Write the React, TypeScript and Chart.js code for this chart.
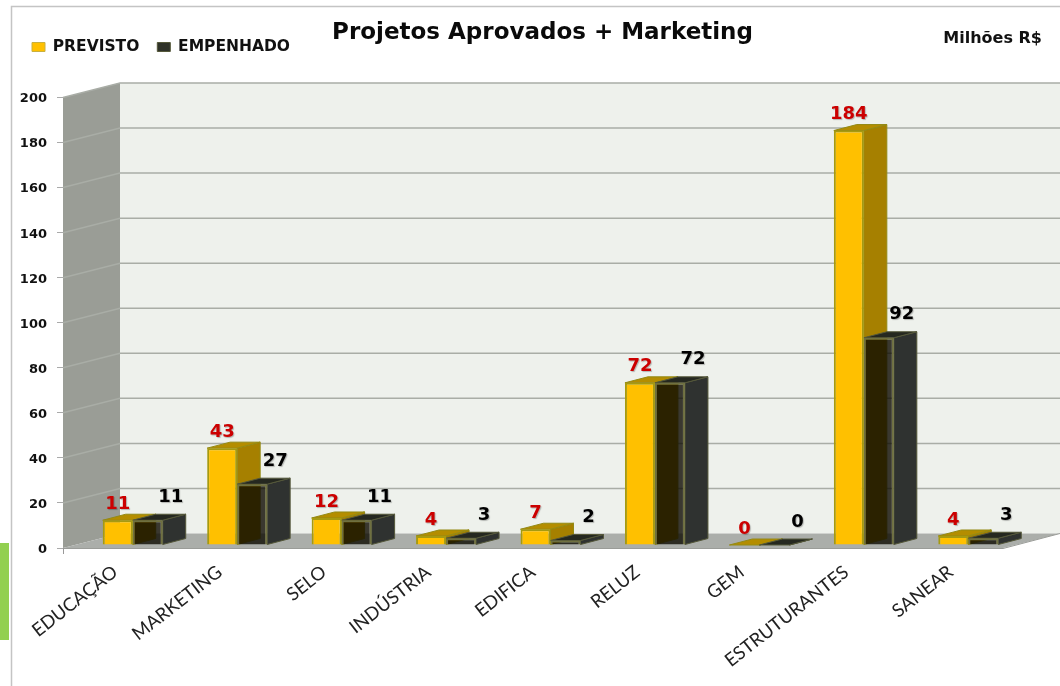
import React, { useEffect, useRef } from "react";
import { Chart, registerables } from "chart.js";

Chart.register(...registerables);

const categories = ["EDUCAÇÃO", "MARKETING", "SELO", "INDÚSTRIA", "EDIFICA", "RELUZ", "GEM", "ESTRUTURANTES", "SANEAR"];
const previsto = [11, 43, 12, 4, 7, 72, 0, 184, 4];
const empenhado = [11, 27, 11, 3, 2, 72, 0, 92, 3];
const chartTitle = "Projetos Aprovados + Marketing";
const unitLabel = "Milhões R$";

const WALL_DX = 57;
const WALL_DY = -14.5;
const BAR_SHIFT_X = 17.5;
const BAR_SHIFT_Y = -3;
const BAR_DX = 23;
const BAR_DY = -6;

function poly(ctx: CanvasRenderingContext2D, pts: number[][], fill: string, stroke?: string, lw = 1) {
  ctx.beginPath();
  pts.forEach((p, i) => (i ? ctx.lineTo(p[0], p[1]) : ctx.moveTo(p[0], p[1])));
  ctx.closePath();
  ctx.fillStyle = fill;
  ctx.fill();
  if (stroke) {
    ctx.strokeStyle = stroke;
    ctx.lineWidth = lw;
    ctx.stroke();
  }
}

const scene = {
  id: "scene",
  afterLayout(chart: any) {
    const t = chart.titleBlock;
    t.left += 41;
    t.right += 41;
    t.top = 19;
    chart.legend.left = 14;
    chart.legend.top = 21.25;
  },
  beforeDraw(chart: any) {
    const { ctx, chartArea: a, scales } = chart;
    const y = scales.y;
    ctx.save();
    // frame and side strip of the slide
    ctx.strokeStyle = "#c4c4c4";
    ctx.lineWidth = 1.5;
    ctx.beginPath();
    ctx.moveTo(11.5, 686);
    ctx.lineTo(11.5, 6.5);
    ctx.lineTo(1060, 6.5);
    ctx.stroke();
    ctx.fillStyle = "#92d050";
    ctx.fillRect(0, 543, 9, 97);
    // walls and floor
    const bx = a.left + WALL_DX;
    const rx = a.right + WALL_DX;
    poly(ctx, [[bx, a.top + WALL_DY], [rx, a.top + WALL_DY], [rx, a.bottom + WALL_DY], [bx, a.bottom + WALL_DY]], "#eef1ec");
    poly(ctx, [[a.left, a.top], [bx, a.top + WALL_DY], [bx, a.bottom + WALL_DY], [a.left, a.bottom]], "#9a9d96");
    poly(ctx, [[a.left, a.bottom], [bx, a.bottom + WALL_DY], [rx, a.bottom + WALL_DY], [a.right, a.bottom]], "#abaeaa");
    // gridlines on both walls
    ctx.strokeStyle = "#a9ada6";
    ctx.lineWidth = 1.5;
    y.ticks.forEach((t: any) => {
      if (t.value === 0) return;
      const p = y.getPixelForValue(t.value);
      ctx.beginPath();
      ctx.moveTo(a.left, p);
      ctx.lineTo(bx, p + WALL_DY);
      ctx.lineTo(rx, p + WALL_DY);
      ctx.stroke();
    });
    ctx.strokeStyle = "#9a9c98";
    ctx.lineWidth = 1;
    ctx.beginPath();
    ctx.moveTo(a.left, a.bottom + 0.5);
    ctx.lineTo(a.right, a.bottom + 0.5);
    ctx.lineTo(rx, a.bottom + WALL_DY);
    ctx.stroke();
    ctx.restore();
  },
  beforeDatasetsDraw(chart: any) {
    const { ctx } = chart;
    ctx.save();
    ctx.translate(BAR_SHIFT_X, BAR_SHIFT_Y);
    const faces = [
      { side: "#a68000", top: "#b48d00", edge: "#948a14" },
      { side: "#2f3230", top: "#252820", edge: "#55583a" },
    ];
    chart.data.labels.forEach((_: string, j: number) => {
      [0, 1].forEach((d) => {
        const el = chart.getDatasetMeta(d).data[j];
        const l = el.x - el.width / 2;
        const r = el.x + el.width / 2;
        const t = el.y;
        const b = el.base;
        const f = faces[d];
        poly(ctx, [[r, t], [r + BAR_DX, t + BAR_DY], [r + BAR_DX, b + BAR_DY], [r, b]], f.side, f.edge);
        poly(ctx, [[l, t], [l + BAR_DX, t + BAR_DY], [r + BAR_DX, t + BAR_DY], [r, t]], f.top, f.edge);
      });
    });
  },
  afterDatasetsDraw(chart: any) {
    const { ctx } = chart;
    ctx.restore();
    ctx.save();
    ctx.font = "bold 18px 'DejaVu Sans'";
    ctx.textAlign = "center";
    ctx.textBaseline = "middle";
    ctx.shadowColor = "rgba(0,0,0,0.25)";
    ctx.shadowOffsetX = 1;
    ctx.shadowOffsetY = 1;
    ctx.shadowBlur = 1;
    const first = chart.getDatasetMeta(0).data;
    const second = chart.getDatasetMeta(1).data;
    ctx.fillStyle = "#cc0000";
    first.forEach((el: any, j: number) => {
      ctx.fillText(String(previsto[j]), el.x + BAR_SHIFT_X, el.y + BAR_SHIFT_Y - 16);
    });
    ctx.fillStyle = "#000000";
    second.forEach((el: any, j: number) => {
      ctx.fillText(String(empenhado[j]), el.x + BAR_SHIFT_X + 23, el.y + BAR_SHIFT_Y - 23);
    });
    ctx.shadowColor = "transparent";
    ctx.font = "bold 16px 'DejaVu Sans'";
    ctx.fillStyle = "#111111";
    ctx.textAlign = "right";
    ctx.fillText(unitLabel, 1042, 39);
    ctx.restore();
  },
};

export default function App() {
  const ref = useRef<HTMLCanvasElement>(null);
  useEffect(() => {
    const chart = new Chart(ref.current!, {
      type: "bar",
      data: {
        labels: categories,
        datasets: [
          {
            label: "PREVISTO",
            data: previsto,
            backgroundColor: "#ffc000",
            borderColor: "#a69a10",
            borderWidth: 2,
            categoryPercentage: 0.5745,
            barPercentage: 1,
            clip: false,
          },
          {
            label: "EMPENHADO",
            data: empenhado,
            backgroundColor: "rgba(12,10,0,0.8)",
            borderColor: "#6f7040",
            borderWidth: 2,
            categoryPercentage: 0.5745,
            barPercentage: 1,
            clip: false,
          },
        ],
      } as any,
      options: {
        responsive: false,
        animation: false,
        layout: { padding: { top: 26.4, right: 57, left: 0, bottom: 0 } },
        plugins: {
          tooltip: { enabled: false },
          title: {
            display: true,
            text: chartTitle,
            color: "#0a0a0a",
            font: { family: "'DejaVu Sans'", size: 23, weight: "bold" },
            padding: 0,
          },
          legend: {
            display: true,
            position: "top",
            align: "start",
            labels: {
              color: "#111111",
              boxWidth: 13,
              boxHeight: 9,
              padding: 18,
              font: { family: "'DejaVu Sans'", size: 15.5, weight: "bold" },
              generateLabels: (c: any) =>
                Chart.defaults.plugins.legend.labels.generateLabels(c).map((item: any, i: number) => ({
                  ...item,
                  fillStyle: i === 0 ? "#ffc000" : "#2f3228",
                  strokeStyle: i === 0 ? "#c8b040" : "#55583a",
                  lineWidth: 1,
                })),
            },
          },
        },
        scales: {
          x: {
            grid: {
              drawOnChartArea: false,
              drawTicks: true,
              tickLength: 6,
              color: (c: any) => (c.index === 0 ? "#999999" : "transparent"),
            },
            border: { display: false },
            afterFit: (s: any) => {
              s.height = 138;
            },
            ticks: {
              minRotation: 38,
              maxRotation: 38,
              autoSkip: false,
              padding: 7,
              color: "#222222",
              font: { family: "Lato", size: 18.5 },
            },
          },
          y: {
            min: 0,
            max: 200,
            grid: { drawOnChartArea: false, drawTicks: true, tickLength: 6, color: "#aaaaaa" },
            border: { display: false },
            afterFit: (s: any) => {
              s.width = 63;
            },
            ticks: {
              stepSize: 20,
              padding: 10,
              labelOffset: 1.5,
              color: "#111111",
              font: { family: "'DejaVu Sans'", size: 13, weight: "bold" },
            },
          },
        },
      },
      plugins: [scene],
    } as any);
    return () => chart.destroy();
  }, []);
  return (
    <canvas
      ref={ref}
      width={1060}
      height={686}
      style={{ position: "absolute", left: 0, top: 0, width: 1060, height: 686 }}
    />
  );
}
